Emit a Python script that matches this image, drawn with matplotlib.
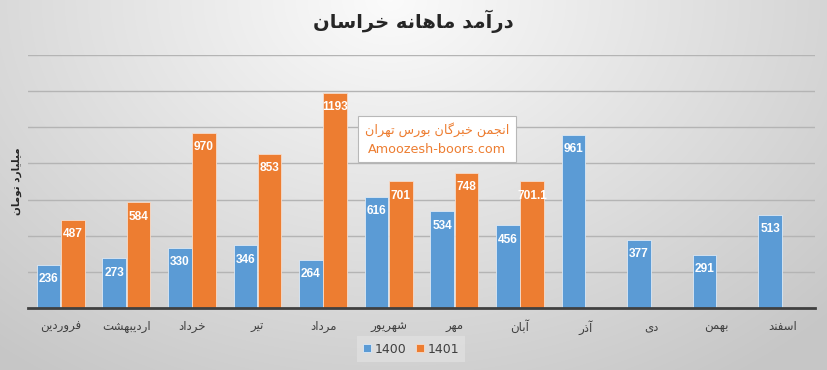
import numpy as np
import matplotlib
matplotlib.use("Agg")
import matplotlib.pyplot as plt

# data
# -----------------------------------------------------------------------------
months = ["فروردین", "اردیبهشت", "خرداد", "تیر", "مرداد", "شهریور",
          "مهر", "آبان", "آذر", "دی", "بهمن", "اسفند"]
rev_1400 = [236, 273, 330, 346, 264, 616, 534, 456, 961, 377, 291, 513]
rev_1401 = [487, 584, 970, 853, 1193, 701, 748, 701.1]
labels_1400 = ["236", "273", "330", "346", "264", "616", "534", "456", "961", "377", "291", "513"]
labels_1401 = ["487", "584", "970", "853", "1193", "701", "748", "701.1"]
series = ["1400", "1401"]
title = "درآمد ماهانه خراسان"
ylabel = "میلیارد تومان"
note = ["انجمن خبرگان بورس تهران", "Amoozesh-boors.com"]

# simple arabic shaping (matplotlib has no bidi / joining)
# -----------------------------------------------------------------------------
FORMS = {
    "ا": ("\uFE8D", "\uFE8E", None, None),
    "آ": ("\uFE81", "\uFE82", None, None),
    "ب": ("\uFE8F", "\uFE90", "\uFE91", "\uFE92"),
    "پ": ("\uFB56", "\uFB57", "\uFB58", "\uFB59"),
    "ت": ("\uFE95", "\uFE96", "\uFE97", "\uFE98"),
    "ج": ("\uFE9D", "\uFE9E", "\uFE9F", "\uFEA0"),
    "خ": ("\uFEA5", "\uFEA6", "\uFEA7", "\uFEA8"),
    "د": ("\uFEA9", "\uFEAA", None, None),
    "ذ": ("\uFEAB", "\uFEAC", None, None),
    "ر": ("\uFEAD", "\uFEAE", None, None),
    "ز": ("\uFEAF", "\uFEB0", None, None),
    "س": ("\uFEB1", "\uFEB2", "\uFEB3", "\uFEB4"),
    "ش": ("\uFEB5", "\uFEB6", "\uFEB7", "\uFEB8"),
    "ف": ("\uFED1", "\uFED2", "\uFED3", "\uFED4"),
    "گ": ("\uFB92", "\uFB93", "\uFB94", "\uFB95"),
    "ل": ("\uFEDD", "\uFEDE", "\uFEDF", "\uFEE0"),
    "م": ("\uFEE1", "\uFEE2", "\uFEE3", "\uFEE4"),
    "ن": ("\uFEE5", "\uFEE6", "\uFEE7", "\uFEE8"),
    "ه": ("\uFEE9", "\uFEEA", "\uFEEB", "\uFEEC"),
    "و": ("\uFEED", "\uFEEE", None, None),
    "ی": ("\uFBFC", "\uFBFD", "\uFBFE", "\uFBFF"),
}


def shape(s):
    out = []
    for i, c in enumerate(s):
        if c not in FORMS:
            out.append(c)
            continue
        prev = s[i - 1] if i > 0 else ""
        nxt = s[i + 1] if i + 1 < len(s) else ""
        jp = prev in FORMS and FORMS[prev][2] is not None
        jn = FORMS[c][2] is not None and nxt in FORMS
        if jp and jn:
            out.append(FORMS[c][3])
        elif jp:
            out.append(FORMS[c][1])
        elif jn:
            out.append(FORMS[c][2])
        else:
            out.append(FORMS[c][0])
    return "".join(out[::-1])


blue = "#5b9bd5"
orange = "#ed7d31"

fig = plt.figure(figsize=(8.27, 3.70), dpi=100)

# background gradient
bg = fig.add_axes([0, 0, 1, 1], zorder=-5)
yy, xx = np.mgrid[0:370, 0:827]
d = np.sqrt(((xx - 390) / 560.0) ** 2 + (yy / 420.0) ** 2)
g = np.clip(0.985 - 0.19 * d, 0.78, 1.0)
bg.imshow(np.dstack([g, g, g]), aspect="auto", extent=[0, 1, 0, 1])
bg.axis("off")

ax = fig.add_axes([28 / 827, 1 - 307.5 / 370, 787 / 827, 252 / 370])
ax.patch.set_alpha(0)

x = np.arange(len(months))
w = 0.36
b1 = ax.bar(x - 0.185, rev_1400, w, color=blue, edgecolor="#dde9f5", linewidth=0.6,
            label=series[0], zorder=3)
x2 = x[:len(rev_1401)]
b2 = ax.bar(x2 + 0.185, rev_1401, w, color=orange, edgecolor="#f6dccb", linewidth=0.6,
            label=series[1], zorder=3)

for bars, labs in [(b1, labels_1400), (b2, labels_1401)]:
    for r, t in zip(bars, labs):
        ax.annotate(t, (r.get_x() + r.get_width() / 2, r.get_height()),
                    xytext=(0, -6), textcoords="offset points",
                    ha="center", va="top", color="white", fontsize=8.6,
                    family="Liberation Sans", fontweight="bold", zorder=4)

ax.set_xlim(-0.5, len(months) - 0.5)
ax.set_ylim(0, 1400)
ax.set_yticks(np.arange(200, 1401, 200))
ax.set_yticklabels([])
ax.tick_params(axis="y", length=0)
ax.tick_params(axis="x", length=0, pad=9)
ax.grid(axis="y", color="#b4b4b4", linewidth=1, zorder=0)
for s in ["top", "right", "left"]:
    ax.spines[s].set_visible(False)
ax.spines["bottom"].set_color("#404040")
ax.spines["bottom"].set_linewidth(2)
ax.spines["bottom"].set_zorder(5)

ax.set_xticks(x)
ax.set_xticklabels([shape(m) for m in months], fontsize=8.5, color="#404040")

fig.text(413 / 827, 1 - 21 / 370, shape(title), ha="center", va="center",
         fontsize=14, fontweight="bold", color="#262626")
fig.text(17 / 827, 1 - 181 / 370, shape(ylabel), ha="center", va="center",
         rotation=90, fontsize=7.5, fontweight="bold", color="#262626")

fig.text(437 / 827, 1 - 139 / 370, shape(note[0]) + "\n" + note[1], ha="center",
         va="center", fontsize=9.2, color=orange, linespacing=1.6,
         bbox=dict(boxstyle="square,pad=0.5", facecolor="white", edgecolor="#b8b8b8",
                   linewidth=0.8))

leg = ax.legend(loc="center", bbox_to_anchor=(0.487, -0.165), ncol=2, frameon=True,
                fontsize=9, handlelength=0.6, handleheight=0.6, handletextpad=0.3,
                columnspacing=0.8, borderpad=0.5, fancybox=False)
leg.get_frame().set_facecolor("#e4e4e4")
leg.get_frame().set_edgecolor("none")
leg.get_frame().set_alpha(0.6)
for t in leg.get_texts():
    t.set_color("#404040")

fig.savefig("out.png", dpi=100)
